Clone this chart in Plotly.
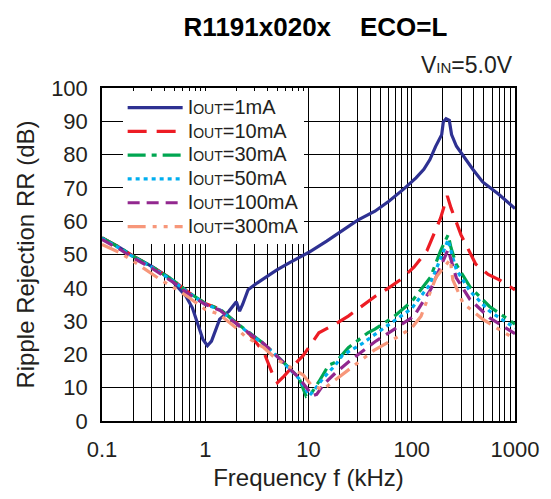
import plotly.graph_objects as go

# ---- data ----
f_1mA = [0.1, 0.15, 0.2, 0.3, 0.45, 0.65, 0.75, 0.85, 0.95, 1.05, 1.15, 1.38, 1.7, 2.0, 2.15, 2.3, 2.6, 3.2, 4.0, 4.9, 6.5, 8.6, 10, 15, 20, 30, 44, 60, 84, 110, 131, 150, 170, 195, 202, 215, 231, 243, 271, 294, 390, 486, 700, 1000]
rr_1mA = [55, 52, 49.5, 46.5, 43, 37.5, 34, 29, 24.5, 22.6, 24, 30.6, 33, 35.8, 33, 35, 39.4, 41.5, 43.5, 45.3, 47.5, 49.5, 50.6, 54, 56.5, 60.3, 63, 66, 69.7, 73, 75.6, 78.5, 82.4, 86, 89.8, 90.8, 90.3, 86, 82.5, 80.9, 75.6, 71.8, 68, 63.8]

f_10mA = [0.1, 0.15, 0.2, 0.3, 0.5, 0.7, 1.0, 1.4, 2.0, 2.7, 3.7, 4.5, 5.0, 5.8, 7.6, 8.9, 12.6, 18.2, 24.3, 33, 44, 58, 79, 105, 140, 190, 221, 240, 300, 417, 550, 705, 1000]
rr_10mA = [55, 52, 49.5, 46.5, 42, 38.5, 35.3, 33.5, 29.5, 26, 20.6, 14, 11.5, 13.5, 17.5, 19.7, 26.5, 29.1, 31.5, 34.4, 37.4, 39.7, 42.6, 46.2, 51.1, 60.9, 67.6, 64, 55.9, 47.1, 44, 42.4, 39.4]

f_30mA = [0.1, 0.15, 0.2, 0.3, 0.5, 0.7, 1.0, 1.4, 2.0, 2.7, 3.7, 5.0, 6.1, 8.1, 9.5, 10.5, 12.6, 15.7, 18.2, 24.3, 37.6, 44, 68, 100, 152, 190, 225, 240, 269, 366, 566, 1000]
rr_30mA = [55, 52, 49.5, 46.5, 42, 38.5, 35.3, 33.5, 29.5, 26.5, 23.2, 19.5, 16.8, 12.9, 7.4, 8, 11.8, 16.8, 17.6, 22, 26.5, 27.6, 31.5, 35.9, 43.2, 51.1, 55.9, 52, 47.1, 40.3, 34.4, 29.1]

f_50mA = [0.1, 0.15, 0.2, 0.3, 0.5, 0.7, 1.0, 1.4, 2.0, 2.7, 3.7, 5.0, 6.1, 8.1, 10.2, 11.5, 14, 18.2, 21.3, 33, 44, 68, 100, 150, 190, 225, 245, 270, 366, 566, 1000]
rr_50mA = [54.8, 51.8, 49.3, 46.3, 41.8, 38.3, 35.1, 33.3, 29.3, 26.3, 23, 19.3, 16.6, 12.7, 7.6, 9.5, 13, 16.8, 19.7, 23.2, 26, 30, 33.8, 41, 49, 54.4, 50, 45.5, 39, 33, 27.9]

f_100mA = [0.1, 0.15, 0.2, 0.3, 0.5, 0.7, 1.0, 1.4, 2.0, 2.7, 3.7, 5.0, 6.1, 8.1, 11, 12, 14, 18.2, 25, 37, 44, 68, 105, 152, 190, 225, 245, 270, 366, 566, 1000]
rr_100mA = [54.5, 51.5, 49, 46, 41.5, 38, 35, 33.2, 29.2, 26.2, 23.2, 19.3, 16.8, 12.9, 7.6, 8, 11, 14.4, 18, 22, 23.8, 27.6, 31.5, 39.4, 46, 51.5, 47.5, 43, 36.5, 31, 26.2]

f_300mA = [0.1, 0.15, 0.2, 0.37, 0.5, 0.7, 1.0, 1.38, 2.05, 2.4, 3.7, 4.9, 6.0, 8.9, 10.5, 13.7, 16, 21, 30, 43, 68, 100, 123, 172, 236, 250, 315, 486, 700, 1000]
rr_300mA = [53, 50.5, 48, 42.4, 40, 37, 33.5, 32, 27.6, 25.6, 22, 18.5, 17, 13.8, 11, 9.4, 11, 13.8, 17.5, 21.2, 24.7, 27.9, 31.5, 43.2, 48.5, 42.4, 35.3, 30.6, 27.5, 24.7]

series_names = ["1mA", "10mA", "30mA", "50mA", "100mA", "300mA"]
series_f = [f_1mA, f_10mA, f_30mA, f_50mA, f_100mA, f_300mA]
series_rr = [rr_1mA, rr_10mA, rr_30mA, rr_50mA, rr_100mA, rr_300mA]
series_colors = ["#2e3192", "#ed1c24", "#00a651", "#00aeef", "#92278f", "#f7977a"]
series_dash = ["solid", "19px,10px", "18px,6px,5px,6px", "4px,4px", "12px,7px", "18px,7px,4px,7px,4px,7px"]

x_decade_labels = ["0.1", "1", "10", "100", "1000"]
y_ticks = list(range(0, 101, 10))

FONT = "Liberation Sans, Arial, sans-serif"
TXT = "#231f20"

W, H = 551, 499
ML, MR, MT, MB = 102, 28, 88, 72

fig = go.Figure()
for name, fx, ry, col, dsh in zip(series_names, series_f, series_rr, series_colors, series_dash):
    fig.add_trace(go.Scatter(
        x=fx, y=ry, mode="lines",
        name="<span style='font-size:20px'>I<span style='font-size:14px'>OUT</span>=" + name + "</span>",
        line=dict(color=col, width=3.2, dash=dsh),
    ))

# x grid: every 1..9 multiple per decade, labels at decades only
xt_vals, xt_text = [], []
for d in range(-1, 3):
    for m in range(1, 10):
        v = m * 10 ** d
        xt_vals.append(v)
        xt_text.append(x_decade_labels[d + 1] if m == 1 else "")
xt_vals.append(1000)
xt_text.append(x_decade_labels[-1])

fig.update_layout(
    width=W, height=H,
    margin=dict(l=ML, r=MR, t=MT, b=MB),
    paper_bgcolor="white", plot_bgcolor="white",
    font=dict(family=FONT, size=22, color=TXT),
    showlegend=True,
    legend=dict(
        x=0.05, y=0.992, xanchor="left", yanchor="top",
        bgcolor="white", borderwidth=0,
        font=dict(family=FONT, size=16, color=TXT),
        itemwidth=55, tracegroupgap=0,
    ),
    title=dict(
        text="<b>R1191x020x\u00a0\u00a0\u00a0\u00a0ECO=L</b>",
        x=315.5 / W, xanchor="center", y=1 - 27 / H, yanchor="middle",
        font=dict(family=FONT, size=26, color="black"),
    ),
    annotations=[dict(
        text="V<span style='font-size:15px'>IN</span>=5.0V",
        xref="paper", yref="paper", x=1.0, y=1.0, xanchor="right", yanchor="bottom",
        yshift=8, showarrow=False, font=dict(family=FONT, size=23, color=TXT),
    )],
)

fig.update_xaxes(
    type="log", range=[-1, 3],
    tickmode="array", tickvals=xt_vals, ticktext=xt_text,
    showgrid=True, gridcolor="black", gridwidth=1.3,
    showline=True, linecolor="black", linewidth=1.5, mirror=True,
    ticks="", ticklabelstandoff=8, ticklabeloverflow="allow",
    title=dict(text="Frequency f (kHz)", font=dict(family=FONT, size=24, color=TXT), standoff=8),
    tickfont=dict(family=FONT, size=22, color=TXT),
    zeroline=False,
)
fig.update_yaxes(
    range=[0, 100], tickmode="array", tickvals=y_ticks,
    showgrid=True, gridcolor="black", gridwidth=1.3,
    showline=True, linecolor="black", linewidth=1.5, mirror=True,
    ticks="", ticklabelstandoff=8,
    title=dict(text="Ripple Rejection RR (dB)", font=dict(family=FONT, size=24, color=TXT), standoff=10),
    tickfont=dict(family=FONT, size=22, color=TXT),
    zeroline=False,
)

fig.write_html(
    "out.html",
    config={"displayModeBar": False},
    post_script="document.body.style.margin='0';",
)
